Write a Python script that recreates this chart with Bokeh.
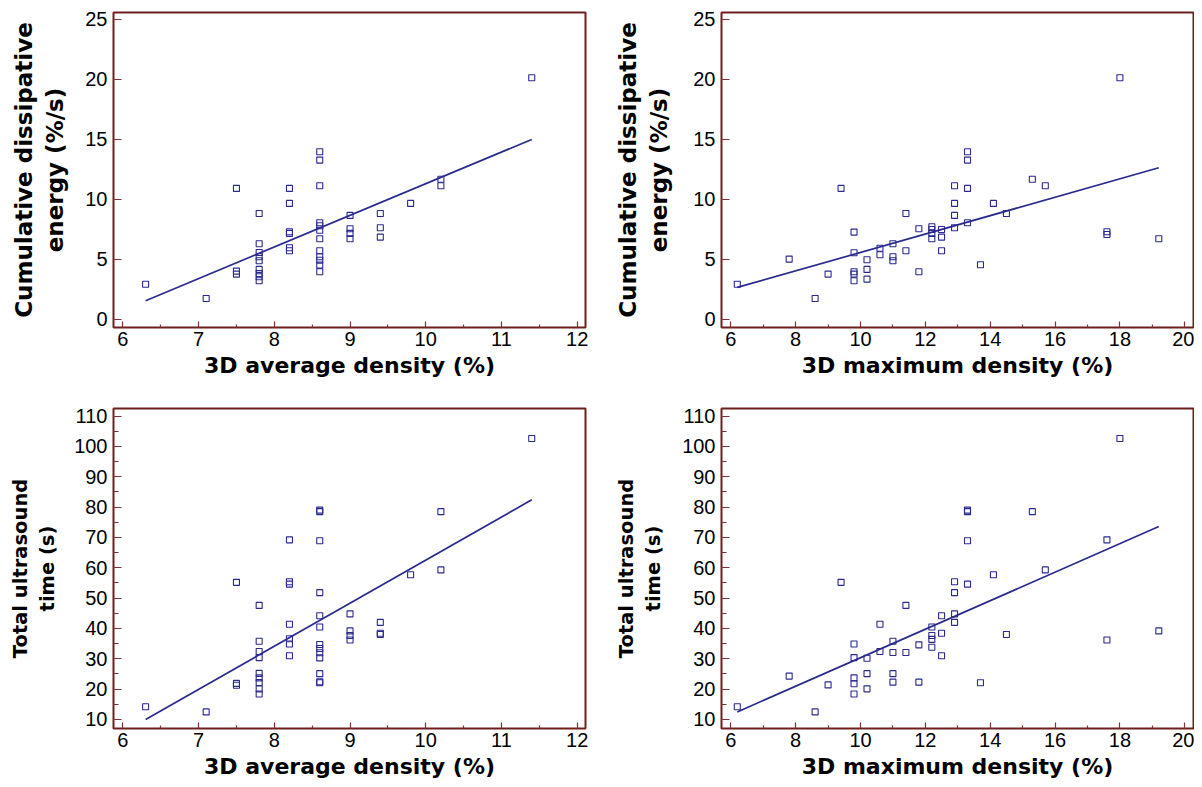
from bokeh.plotting import figure
from bokeh.layouts import row, column
from bokeh.models import FixedTicker, Range1d
from bokeh.embed import file_html
from bokeh.resources import INLINE

# ---------------- data ----------------
# Panel A: cumulative dissipative energy vs 3D average density
avg_density_e = [6.3, 7.1,
                 7.5, 7.5, 7.5,
                 7.8, 7.8, 7.8, 7.8, 7.8, 7.8, 7.8, 7.8, 7.8,
                 8.2, 8.2, 8.2, 8.2, 8.2, 8.2,
                 8.6, 8.6, 8.6, 8.6, 8.6, 8.6, 8.6, 8.6, 8.6, 8.6, 8.6, 8.6,
                 9.0, 9.0, 9.0, 9.0,
                 9.4, 9.4, 9.4,
                 9.8, 10.2, 10.2, 11.4]
energy_by_avg = [2.94, 1.75,
                 10.92, 4.03, 3.78,
                 8.83, 6.31, 5.58, 5.22, 4.89, 4.17, 3.83, 3.56, 3.22,
                 10.92, 9.67, 7.31, 7.17, 5.97, 5.72,
                 13.97, 13.28, 11.14, 8.06, 7.81, 7.44, 6.72, 5.72, 5.22, 4.94, 4.53, 3.97,
                 8.67, 7.56, 7.17, 6.72,
                 8.83, 7.64, 6.86,
                 9.67, 11.69, 11.14, 20.14]
fit_avg_x = [6.3, 11.4]
fit_energy_avg = [1.56, 15.0]

# Panel B: cumulative dissipative energy vs 3D maximum density
max_density_e = [6.2, 7.8, 8.6, 9.0, 9.4,
                 9.8, 9.8, 9.8, 9.8, 9.8,
                 10.2, 10.2, 10.2,
                 10.6, 10.6,
                 11.0, 11.0, 11.0,
                 11.4, 11.4,
                 11.8, 11.8,
                 12.2, 12.2, 12.2, 12.2,
                 12.5, 12.5, 12.5,
                 12.9, 12.9, 12.9, 12.9,
                 13.3, 13.3, 13.3, 13.3,
                 13.7, 14.1, 14.5, 15.3, 15.7,
                 17.6, 17.6, 18.0, 19.2]
energy_by_max = [2.94, 5.03, 1.75, 3.78, 10.92,
                 7.28, 5.56, 3.97, 3.78, 3.22,
                 4.97, 4.17, 3.36,
                 5.94, 5.39,
                 6.31, 5.22, 4.89,
                 8.83, 5.72,
                 7.56, 3.97,
                 7.72, 7.50, 7.17, 6.72,
                 7.50, 6.86, 5.72,
                 11.14, 9.67, 8.67, 7.64,
                 13.97, 13.28, 10.92, 8.06,
                 4.56, 9.67, 8.83, 11.69, 11.14,
                 7.31, 7.08, 20.14, 6.72]
fit_max_x = [6.2, 19.2]
fit_energy_max = [2.67, 12.64]

# Panel C: total ultrasound time vs 3D average density
avg_density_t = [6.3, 7.1,
                 7.5, 7.5, 7.5,
                 7.8, 7.8, 7.8, 7.8, 7.8, 7.8, 7.8, 7.8, 7.8,
                 8.2, 8.2, 8.2, 8.2, 8.2, 8.2, 8.2,
                 8.6, 8.6, 8.6, 8.6, 8.6, 8.6, 8.6, 8.6, 8.6, 8.6, 8.6, 8.6, 8.6,
                 9.0, 9.0, 9.0, 9.0,
                 9.4, 9.4, 9.4,
                 9.8, 10.2, 10.2, 11.4]
time_by_avg = [14.2, 12.5,
               55.2, 21.9, 21.3,
               47.6, 35.8, 32.4, 30.4, 25.2, 23.7, 22.2, 20.1, 18.4,
               69.2, 55.4, 54.6, 41.4, 36.6, 34.9, 31.0,
               79.0, 78.5, 68.9, 51.8, 44.2, 40.5, 34.7, 33.4, 32.0, 30.3, 25.1, 22.4, 22.1,
               44.8, 39.2, 37.7, 36.2,
               42.0, 38.4, 38.0,
               57.7, 78.5, 59.3, 102.6]
fit_time_avg = [10.0, 82.4]

# Panel D: total ultrasound time vs 3D maximum density
max_density_t = [6.2, 7.8, 8.6, 9.0, 9.4,
                 9.8, 9.8, 9.8, 9.8, 9.8,
                 10.2, 10.2, 10.2,
                 10.6, 10.6,
                 11.0, 11.0, 11.0, 11.0,
                 11.4, 11.4,
                 11.8, 11.8,
                 12.2, 12.2, 12.2, 12.2,
                 12.5, 12.5, 12.5,
                 12.9, 12.9, 12.9, 12.9,
                 13.3, 13.3, 13.3, 13.3,
                 13.7, 14.1, 14.5, 15.3, 15.7,
                 17.6, 17.6, 18.0, 19.2]
time_by_max = [14.2, 24.3, 12.5, 21.4, 55.2,
               34.9, 30.4, 23.7, 21.8, 18.4,
               30.2, 25.1, 20.1,
               41.4, 32.4,
               35.8, 32.1, 25.1, 22.3,
               47.6, 32.1,
               34.6, 22.3,
               40.5, 37.7, 36.4, 33.8,
               44.2, 38.4, 31.0,
               55.4, 51.8, 44.8, 42.0,
               79.0, 78.5, 68.9, 54.6,
               22.1, 57.7, 38.0, 78.5, 59.3,
               69.2, 36.2, 102.6, 39.2]
fit_time_max = [12.5, 73.6]

avg_ticks = [6, 7, 8, 9, 10, 11, 12]
avg_minor = [6.5, 7.5, 8.5, 9.5, 10.5, 11.5]
max_ticks = [6, 8, 10, 12, 14, 16, 18, 20]
max_minor = [7, 9, 11, 13, 15, 17, 19]
energy_ticks = [0, 5, 10, 15, 20, 25]
time_ticks = [10, 20, 30, 40, 50, 60, 70, 80, 90, 100, 110]
time_minor = [15, 25, 35, 45, 55, 65, 75, 85, 95, 105]

x_label_avg = "3D average density (%)"
x_label_max = "3D maximum density (%)"
y_label_energy = "Cumulative dissipative\nenergy (%/s)"
y_label_time = "Total ultrasound\ntime (s)"

# ---------------- style ----------------
NAVY = "#2a2a8e"
MAROON = "#6e1e1e"
TICKC = "#7e3434"


def panel(xs, ys, fx, fy, xr, yr, xt, xm, yt, ym, xlab, ylab, ylab_size,
          bl, br, bt, bb, fh, ylab_standoff):
    p = figure(frame_width=472, frame_height=fh,
               x_range=Range1d(*xr), y_range=Range1d(*yr),
               output_backend="svg", toolbar_location=None,
               min_border_left=bl, min_border_right=br,
               min_border_top=bt, min_border_bottom=bb)
    p.scatter(xs, ys, marker="square", size=6, fill_color=None,
              line_color=NAVY, line_width=1.1)
    p.line(fx, fy, line_color=NAVY, line_width=1.7)
    p.xgrid.visible = False
    p.ygrid.visible = False
    p.outline_line_color = MAROON
    p.outline_line_width = 2
    p.outline_line_alpha = 1
    p.xaxis.ticker = FixedTicker(ticks=xt, minor_ticks=xm)
    p.yaxis.ticker = FixedTicker(ticks=yt, minor_ticks=ym)
    for ax in (p.xaxis[0], p.yaxis[0]):
        ax.axis_line_color = None
        ax.major_tick_line_color = TICKC
        ax.minor_tick_line_color = TICKC
        ax.major_tick_line_width = 1.2
        ax.minor_tick_line_width = 1.2
        ax.major_tick_out = 0
        ax.minor_tick_out = 0
        ax.major_label_text_font = "Liberation Sans"
        ax.major_label_text_font_size = "20px"
        ax.major_label_text_color = "black"
        ax.axis_label_text_font = "DejaVu Sans"
        ax.axis_label_text_font_style = "bold"
        ax.axis_label_text_color = "black"
    p.xaxis.major_tick_in = 6
    p.xaxis.minor_tick_in = 3
    p.yaxis.major_tick_in = 8
    p.yaxis.minor_tick_in = 5
    p.xaxis.major_label_standoff = 4
    p.yaxis.major_label_standoff = 6
    p.xaxis.axis_label = xlab
    p.xaxis.axis_label_text_font_size = "22px"
    p.xaxis.axis_label_standoff = 4
    p.yaxis.axis_label = ylab
    p.yaxis.axis_label_text_font_size = ylab_size
    p.yaxis.axis_label_standoff = ylab_standoff
    return p


E_RANGE = (-0.67, 25.58)
T_RANGE = (7.03, 112.5)
AVG_RANGE = (5.876, 12.11)
MAX_RANGE = (5.713, 20.27)

p1 = panel(avg_density_e, energy_by_avg, fit_avg_x, fit_energy_avg,
           AVG_RANGE, E_RANGE, avg_ticks, avg_minor, energy_ticks, [],
           x_label_avg, y_label_energy, "23px", 113, 20, 12, 73, 315, 14)
p2 = panel(max_density_e, energy_by_max, fit_max_x, fit_energy_max,
           MAX_RANGE, E_RANGE, max_ticks, max_minor, energy_ticks, [],
           x_label_max, y_label_energy, "23px", 116, 1, 12, 73, 315, 18)
p3 = panel(avg_density_t, time_by_avg, fit_avg_x, fit_time_avg,
           AVG_RANGE, T_RANGE, avg_ticks, avg_minor, time_ticks, time_minor,
           x_label_avg, y_label_time, "19.5px", 113, 20, 8, 56, 320, 12)
p4 = panel(max_density_t, time_by_max, fit_max_x, fit_time_max,
           MAX_RANGE, T_RANGE, max_ticks, max_minor, time_ticks, time_minor,
           x_label_max, y_label_time, "19.5px", 116, 1, 8, 56, 320, 14)

layout = column(row(p1, p2), row(p3, p4))

open("out.html", "w").write(file_html(layout, INLINE))
